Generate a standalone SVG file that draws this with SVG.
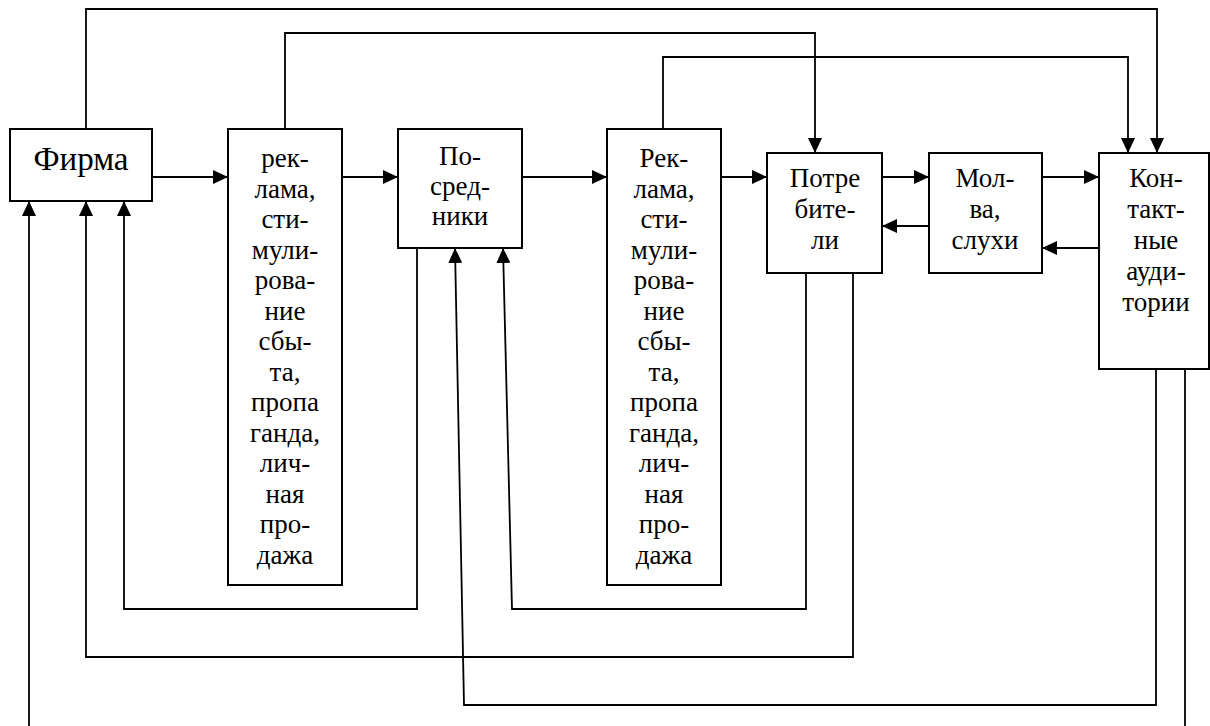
<svg xmlns="http://www.w3.org/2000/svg" width="1210" height="726" viewBox="0 0 1210 726">
<style>
.box{fill:#fff;stroke:#000;stroke-width:2}
.ln{fill:none;stroke:#000;stroke-width:1.8}
.t{text-anchor:middle;fill:#000}
</style>
<defs>
<marker id="ah" markerUnits="userSpaceOnUse" markerWidth="16" markerHeight="14" refX="15" refY="7" orient="auto">
<path d="M0,0 L15,7 L0,14 z" fill="#000"/>
</marker>
</defs>
<rect width="1210" height="726" fill="#fff"/>
<g id="connectors">
<path class="ln" d="M142,177 H228" marker-end="url(#ah)"/>
<path class="ln" d="M342,177 H398" marker-end="url(#ah)"/>
<path class="ln" d="M522,177 H607" marker-end="url(#ah)"/>
<path class="ln" d="M721,177 H767" marker-end="url(#ah)"/>
<path class="ln" d="M882,177 H929" marker-end="url(#ah)"/>
<path class="ln" d="M929,226 H882" marker-end="url(#ah)"/>
<path class="ln" d="M1042,177 H1099" marker-end="url(#ah)"/>
<path class="ln" d="M1099,248 H1042" marker-end="url(#ah)"/>
<path class="ln" d="M86,129 V9 H1157 V153" marker-end="url(#ah)"/>
<path class="ln" d="M285,129 V33 H815 V153" marker-end="url(#ah)"/>
<path class="ln" d="M663,129 V57 H1128 V153" marker-end="url(#ah)"/>
<path class="ln" d="M417,248 V609 H124 V201" marker-end="url(#ah)"/>
<path class="ln" d="M806,273 V609 H512 L503,248" marker-end="url(#ah)"/>
<path class="ln" d="M853,273 V657 H86 V201" marker-end="url(#ah)"/>
<path class="ln" d="M1156,369 V705 H464 L455,248" marker-end="url(#ah)"/>
<path class="ln" d="M1185,369 V726"/>
<path class="ln" d="M29,726 V201" marker-end="url(#ah)"/>
</g>
<g id="firma">
<rect class="box" x="10" y="129" width="142" height="72"/>
<text class="t" x="81" y="170" font-family="Liberation Serif" font-size="33">Фирма</text>
</g>
<g id="reklama1">
<rect class="box" x="228" y="129" width="114" height="456"/>
<text class="t" x="285" y="167" font-family="Liberation Serif" font-size="27"><tspan x="285">рек-</tspan><tspan x="285" dy="30.5">лама,</tspan><tspan x="285" dy="30.5">сти-</tspan><tspan x="285" dy="30.5">мули-</tspan><tspan x="285" dy="30.5">рова-</tspan><tspan x="285" dy="30.5">ние</tspan><tspan x="285" dy="30.5">сбы-</tspan><tspan x="285" dy="30.5">та,</tspan><tspan x="285" dy="30.5">пропа</tspan><tspan x="285" dy="30.5">ганда,</tspan><tspan x="285" dy="30.5">лич-</tspan><tspan x="285" dy="30.5">ная</tspan><tspan x="285" dy="30.5">про-</tspan><tspan x="285" dy="30.5">дажа</tspan></text>
</g>
<g id="posredniki">
<rect class="box" x="398" y="129" width="124" height="119"/>
<text class="t" x="460" y="165" font-family="Liberation Serif" font-size="27"><tspan x="460">По-</tspan><tspan x="460" dy="30">сред-</tspan><tspan x="460" dy="30">ники</tspan></text>
</g>
<g id="reklama2">
<rect class="box" x="607" y="129" width="114" height="456"/>
<text class="t" x="664" y="167" font-family="Liberation Serif" font-size="27"><tspan x="664">Рек-</tspan><tspan x="664" dy="30.5">лама,</tspan><tspan x="664" dy="30.5">сти-</tspan><tspan x="664" dy="30.5">мули-</tspan><tspan x="664" dy="30.5">рова-</tspan><tspan x="664" dy="30.5">ние</tspan><tspan x="664" dy="30.5">сбы-</tspan><tspan x="664" dy="30.5">та,</tspan><tspan x="664" dy="30.5">пропа</tspan><tspan x="664" dy="30.5">ганда,</tspan><tspan x="664" dy="30.5">лич-</tspan><tspan x="664" dy="30.5">ная</tspan><tspan x="664" dy="30.5">про-</tspan><tspan x="664" dy="30.5">дажа</tspan></text>
</g>
<g id="potrebiteli">
<rect class="box" x="767" y="153" width="115" height="120"/>
<text class="t" x="825" y="187" font-family="Liberation Serif" font-size="27"><tspan x="825">Потре</tspan><tspan x="825" dy="31">бите-</tspan><tspan x="825" dy="31">ли</tspan></text>
</g>
<g id="molva">
<rect class="box" x="929" y="153" width="113" height="120"/>
<text class="t" x="985" y="187" font-family="Liberation Serif" font-size="27"><tspan x="985">Мол-</tspan><tspan x="985" dy="31">ва,</tspan><tspan x="985" dy="31">слухи</tspan></text>
</g>
<g id="kontaktnye">
<rect class="box" x="1099" y="153" width="110" height="216"/>
<text class="t" x="1156" y="187" font-family="Liberation Serif" font-size="27"><tspan x="1156">Кон-</tspan><tspan x="1156" dy="31">такт-</tspan><tspan x="1156" dy="31">ные</tspan><tspan x="1156" dy="31">ауди-</tspan><tspan x="1156" dy="31">тории</tspan></text>
</g>
</svg>
